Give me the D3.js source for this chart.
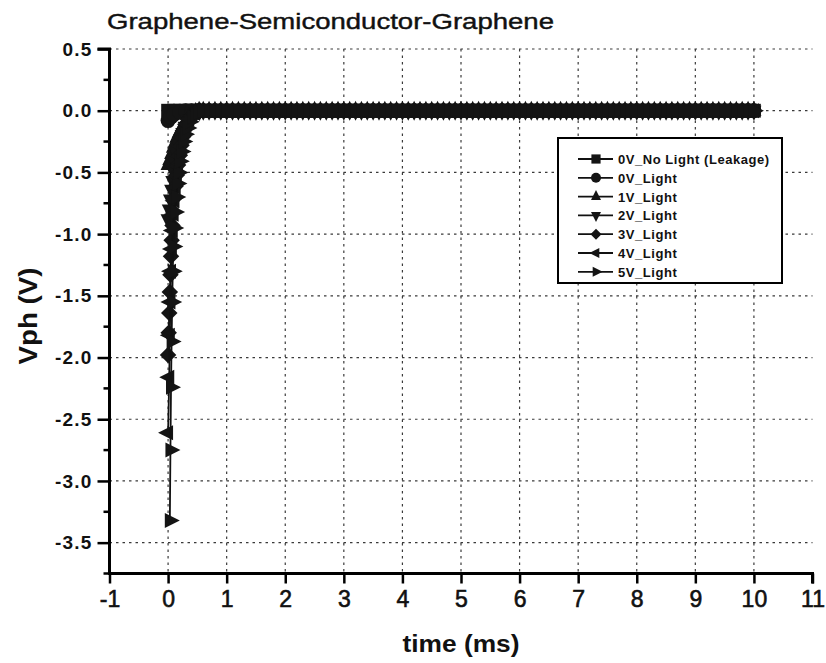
<!DOCTYPE html>
<html>
<head>
<meta charset="utf-8">
<script src="https://cdn.jsdelivr.net/npm/d3@7"></script>
<style>
  html, body { margin: 0; padding: 0; background: #fff; }
  svg { display: block; font-family: "Liberation Sans", Arial, Helvetica, sans-serif; }
</style>
</head>
<body>
<svg id="chart" width="826" height="663"></svg>
<script>
// ---- data -------------------------------------------------------------
const seriesNames = ["0V_No Light (Leakage)", "0V_Light", "1V_Light", "2V_Light", "3V_Light", "4V_Light", "5V_Light"];

// transient part of each trace (time in ms, Vph in V)
const leakT   = [0.0, 0.1, 0.2, 0.3, 0.4, 0.5];
const leakV   = [0, 0, 0, 0, 0, 0];
const light0T = [0.0, 0.05, 0.1, 0.2, 0.3, 0.4, 0.5];
const light0V = [-0.08, -0.05, -0.03, -0.01, 0, 0, 0];
const light1T = [0.0, 0.03, 0.06, 0.09, 0.12, 0.15, 0.19, 0.23, 0.27, 0.31, 0.36, 0.41, 0.47, 0.53];
const light1V = [-0.44, -0.40, -0.35, -0.30, -0.26, -0.22, -0.18, -0.15, -0.11, -0.08, -0.05, -0.03, -0.01, 0];
const light2T = [0.0, 0.02, 0.04, 0.06, 0.08, 0.1, 0.13, 0.16, 0.19, 0.22, 0.25, 0.29, 0.33, 0.37, 0.42, 0.48, 0.54];
const light2V = [-0.88, -0.80, -0.72, -0.64, -0.57, -0.50, -0.43, -0.36, -0.29, -0.23, -0.18, -0.13, -0.09, -0.06, -0.03, -0.01, 0];
const light3T = [0.0, 0.01, 0.02, 0.03, 0.04, 0.05, 0.06, 0.075, 0.09, 0.11, 0.13, 0.15, 0.17, 0.2, 0.23, 0.26, 0.29, 0.33, 0.37, 0.42, 0.48, 0.55];
const light3V = [-1.98, -1.80, -1.64, -1.47, -1.33, -1.18, -1.05, -0.93, -0.82, -0.71, -0.61, -0.52, -0.44, -0.36, -0.28, -0.21, -0.15, -0.10, -0.06, -0.03, -0.01, 0];
const light4T = [0.0, 0.02, 0.03, 0.04, 0.05, 0.065, 0.08, 0.095, 0.11, 0.13, 0.15, 0.17, 0.195, 0.22, 0.25, 0.28, 0.32, 0.36, 0.41, 0.46, 0.52];
const light4V = [-2.61, -2.16, -1.82, -1.55, -1.30, -1.12, -0.97, -0.84, -0.73, -0.62, -0.53, -0.45, -0.37, -0.29, -0.22, -0.16, -0.11, -0.07, -0.04, -0.02, 0];
const light5T = [0.03, 0.04, 0.05, 0.06, 0.07, 0.08, 0.09, 0.105, 0.12, 0.14, 0.16, 0.18, 0.2, 0.23, 0.26, 0.29, 0.33, 0.37, 0.42, 0.47, 0.52, 0.58];
const light5V = [-3.32, -2.75, -2.24, -1.87, -1.55, -1.30, -1.10, -0.95, -0.82, -0.70, -0.59, -0.50, -0.41, -0.33, -0.25, -0.19, -0.14, -0.09, -0.05, -0.03, -0.01, 0];

// steady-state samples shared by all traces
const tailT = [0.6, 0.7, 0.8, 0.9, 1.0, 1.1, 1.2, 1.3, 1.4, 1.5, 1.6, 1.7, 1.8, 1.9, 2.0,
  2.1, 2.2, 2.3, 2.4, 2.5, 2.6, 2.7, 2.8, 2.9, 3.0, 3.1, 3.2, 3.3, 3.4, 3.5, 3.6, 3.7, 3.8, 3.9, 4.0,
  4.1, 4.2, 4.3, 4.4, 4.5, 4.6, 4.7, 4.8, 4.9, 5.0, 5.1, 5.2, 5.3, 5.4, 5.5, 5.6, 5.7, 5.8, 5.9, 6.0,
  6.1, 6.2, 6.3, 6.4, 6.5, 6.6, 6.7, 6.8, 6.9, 7.0, 7.1, 7.2, 7.3, 7.4, 7.5, 7.6, 7.7, 7.8, 7.9, 8.0,
  8.1, 8.2, 8.3, 8.4, 8.5, 8.6, 8.7, 8.8, 8.9, 9.0, 9.1, 9.2, 9.3, 9.4, 9.5, 9.6, 9.7, 9.8, 9.9, 10.0];
const tailV = [0, 0, 0, 0, 0, 0, 0, 0, 0, 0, 0, 0, 0, 0, 0,
  0, 0, 0, 0, 0, 0, 0, 0, 0, 0, 0, 0, 0, 0, 0, 0, 0, 0, 0, 0,
  0, 0, 0, 0, 0, 0, 0, 0, 0, 0, 0, 0, 0, 0, 0, 0, 0, 0, 0, 0,
  0, 0, 0, 0, 0, 0, 0, 0, 0, 0, 0, 0, 0, 0, 0, 0, 0, 0, 0, 0,
  0, 0, 0, 0, 0, 0, 0, 0, 0, 0, 0, 0, 0, 0, 0, 0, 0, 0, 0, 0];

const xTicks = [-1, 0, 1, 2, 3, 4, 5, 6, 7, 8, 9, 10, 11];
const yTicks = [0.5, 0.0, -0.5, -1.0, -1.5, -2.0, -2.5, -3.0, -3.5];
const yMinorTicks = [0.25, -0.25, -0.75, -1.25, -1.75, -2.25, -2.75, -3.25, -3.75];

// ---- layout -----------------------------------------------------------
const svg = d3.select("#chart");
const plotLeft = 109.5, plotRight = 812.5, plotTop = 49, plotBottom = 573.5;

const x = d3.scaleLinear().domain([-1, 11]).range([plotLeft, plotRight]);
const y = d3.scaleLinear().domain([-3.75, 0.5]).range([plotBottom, plotTop]);

const traces = [
  [leakT, leakV], [light0T, light0V], [light1T, light1V], [light2T, light2V],
  [light3T, light3V], [light4T, light4V], [light5T, light5V]
].map(([t, v], i) => ({
  name: seriesNames[i],
  pts: t.map((tt, j) => ({ t: tt, v: v[j] }))
        .concat(tailT.map((tt, j) => ({ t: tt, v: tailV[j] })))
}));

const shapes = ["square", "circle", "up", "down", "diamond", "left", "right"];

// marker outline centred on the data point; r is the half-extent
function markerPath(kind, r) {
  const h = 2 * r;
  switch (kind) {
    case "square": { const a = r * 0.92; return `M${-a},${-a}H${a}V${a}H${-a}Z`; }
    case "circle": return `M${r},0A${r},${r} 0 1,1 ${-r},0A${r},${r} 0 1,1 ${r},0Z`;
    case "diamond": { const a = r * 1.1; return `M0,${-a}L${a},0L0,${a}L${-a},0Z`; }
    case "up":    return `M0,${-h * 2 / 3}L${r},${h / 3}L${-r},${h / 3}Z`;
    case "down":  return `M0,${h * 2 / 3}L${r},${-h / 3}L${-r},${-h / 3}Z`;
    case "left":  return `M${-h * 2 / 3},0L${h / 3},${r}L${h / 3},${-r}Z`;
    case "right": return `M${h * 2 / 3},0L${-h / 3},${r}L${-h / 3},${-r}Z`;
  }
}

// ---- grid -------------------------------------------------------------
const grid = svg.append("g").attr("stroke", "#3a3a3a").attr("stroke-width", 1.2)
  .attr("stroke-dasharray", "2.5,4");
grid.selectAll("line.v").data(xTicks.filter(d => d > -1 && d < 11)).join("line")
  .attr("class", "v")
  .attr("x1", d => x(d)).attr("x2", d => x(d))
  .attr("y1", y(0.5)).attr("y2", plotBottom);
grid.selectAll("line.h").data(yTicks).join("line")
  .attr("class", "h")
  .attr("x1", plotLeft).attr("x2", plotRight)
  .attr("y1", d => y(d)).attr("y2", d => y(d));

// ---- traces -----------------------------------------------------------
const line = d3.line().x(d => x(d.t)).y(d => y(d.v));
const plot = svg.append("g");
traces.forEach((s, i) => {
  const g = plot.append("g");
  g.append("path").attr("d", line(s.pts)).attr("fill", "none")
    .attr("stroke", "#111").attr("stroke-width", 1.8);
  g.selectAll("path.m").data(s.pts).join("path")
    .attr("class", "m")
    .attr("transform", d => `translate(${x(d.t)},${y(d.v)})`)
    .attr("d", markerPath(shapes[i], 7.5))
    .attr("fill", "#141414");
});

// ---- axes -------------------------------------------------------------
const fmtY = d => (d < 0 ? "-" : "") + Math.abs(d).toFixed(1);
const fmtX = d => (d < 0 ? "-" : "") + Math.abs(d);

const yAxis = svg.append("g").attr("transform", `translate(${plotLeft},0)`)
  .call(d3.axisLeft(y).tickValues(yTicks).tickFormat(fmtY).tickSize(12).tickPadding(5));
yAxis.append("g").selectAll("line").data(yMinorTicks).join("line")
  .attr("x1", -6).attr("x2", 0).attr("y1", d => y(d)).attr("y2", d => y(d))
  .attr("stroke", "#000").attr("stroke-width", 2.5);

const xAxis = svg.append("g").attr("transform", `translate(0,${plotBottom})`)
  .call(d3.axisBottom(x).tickValues(xTicks).tickFormat(fmtX).tickSize(10).tickPadding(7));

[yAxis, xAxis].forEach(a => {
  a.select(".domain").attr("stroke", "#000").attr("stroke-width", 3);
  a.selectAll(".tick line").attr("stroke", "#000").attr("stroke-width", 2.5);
  a.selectAll(".tick text").attr("fill", "#111")
    .style("font-family", "'Liberation Sans', Arial, sans-serif")
    .style("font-weight", "bold");
});
yAxis.selectAll(".tick text").style("font-size", "19px").style("letter-spacing", "1.2px");
xAxis.selectAll(".tick text").style("font-size", "23px").style("font-weight", "normal")
  .style("stroke", "#111").style("stroke-width", "0.6px");
yAxis.select(".domain").attr("d", `M-12,${y(0.5)}H0V${plotBottom + 1.5}`);
xAxis.select(".domain").attr("d", `M${plotLeft - 1.5},0H${plotRight}V10`);

// ---- titles -----------------------------------------------------------
svg.append("text").attr("x", 107).attr("y", 28.5)
  .attr("fill", "#111").style("font-size", "22px")
  .style("stroke", "#111").style("stroke-width", "0.4px")
  .attr("textLength", 447).attr("lengthAdjust", "spacingAndGlyphs")
  .text("Graphene-Semiconductor-Graphene");

svg.append("text")
  .attr("transform", `translate(37,316) rotate(-90)`)
  .attr("text-anchor", "middle").attr("fill", "#111")
  .style("font-size", "25px").style("font-weight", "bold")
  .attr("textLength", 97).attr("lengthAdjust", "spacingAndGlyphs")
  .text("Vph (V)");

svg.append("text").attr("x", 461).attr("y", 652)
  .attr("text-anchor", "middle").attr("fill", "#111")
  .style("font-size", "24px").style("font-weight", "bold")
  .attr("textLength", 117).attr("lengthAdjust", "spacingAndGlyphs")
  .text("time (ms)");

// ---- legend -----------------------------------------------------------
const lg = svg.append("g").attr("transform", "translate(558,138)");
lg.append("rect").attr("width", 224).attr("height", 145)
  .attr("fill", "#fff").attr("stroke", "#000").attr("stroke-width", 2);
const rows = lg.selectAll("g.row").data(traces).join("g")
  .attr("class", "row")
  .attr("transform", (d, i) => `translate(0,${21 + i * 18.8})`);
rows.append("line").attr("x1", 20).attr("x2", 55).attr("stroke", "#111").attr("stroke-width", 1.8);
rows.append("path").attr("transform", "translate(38,0)")
  .attr("d", (d, i) => markerPath(shapes[i], 5)).attr("fill", "#141414");
rows.append("text").attr("x", 60).attr("y", 5)
  .attr("fill", "#111").style("font-size", "13px").style("font-weight", "bold")
  .style("letter-spacing", "0.55px")
  .text(d => d.name);
</script>
</body>
</html>
